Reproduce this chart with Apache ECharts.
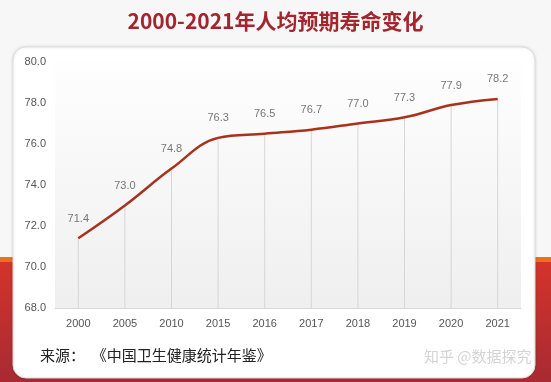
<!DOCTYPE html>
<html>
<head>
<meta charset="utf-8">
<script src="https://cdn.jsdelivr.net/npm/echarts@6/dist/echarts.min.js"></script>
<style>html,body{margin:0;padding:0;background:#f7f7f7;}#c{width:551px;height:382px;}</style>
</head>
<body>
<div id="c"></div>
<script>
const titleText = '2000-2021年人均预期寿命变化';
const years = ['2000','2005','2010','2015','2016','2017','2018','2019','2020','2021'];
const lifeExpectancy = [71.4, 73.0, 74.8, 76.3, 76.5, 76.7, 77.0, 77.3, 77.9, 78.2];
const sourceText = '来源：  《中国卫生健康统计年鉴》';
const watermarkText = '知乎 @数据探究';

const chart = echarts.init(document.getElementById('c'), null, {renderer: 'canvas'});
const G = echarts.graphic;
chart.setOption({
  backgroundColor: '#f7f7f7',
  animation: false,
  title: {
    text: titleText, left: 'center', top: 6,
    textStyle: {color: '#A3262E', fontSize: 21, fontWeight: 'bold', fontFamily: 'Noto Sans CJK SC'}
  },
  graphic: [
    {type: 'rect', z: -10, silent: true, shape: {x: 0, y: 257, width: 551, height: 5}, style: {fill: '#E8721E'}},
    {type: 'rect', z: -10, silent: true, shape: {x: 0, y: 262, width: 551, height: 120},
      style: {fill: new G.LinearGradient(0, 0, 0, 1, [{offset: 0, color: '#D3342A'}, {offset: 1, color: '#A82A33'}])}},
    {type: 'rect', z: -5, silent: true, shape: {x: 13, y: 47, width: 522, height: 331, r: 13},
      style: {fill: '#ffffff', stroke: '#dddddd', lineWidth: 1, shadowBlur: 3, shadowColor: 'rgba(0,0,0,0.12)'}},
    {type: 'text', z: 5, left: 40, top: 348, style: {text: sourceText, fill: '#222', fontSize: 15, fontFamily: 'Noto Sans CJK SC'}},
    {type: 'text', z: 5, left: 424, top: 349, style: {text: watermarkText, fill: 'rgba(170,170,170,0.5)', fontSize: 15, fontFamily: 'Noto Sans CJK SC'}}
  ],
  grid: {
    left: 55, right: 30, top: 62, bottom: 74, show: true, borderWidth: 0,
    backgroundColor: new G.LinearGradient(0, 0, 0, 1, [{offset: 0, color: '#fefefe'}, {offset: 1, color: '#efefef'}])
  },
  xAxis: {
    type: 'category', data: years, boundaryGap: true,
    axisLine: {show: true, lineStyle: {color: '#d8d8d8'}},
    axisTick: {show: false},
    axisLabel: {color: '#555', fontSize: 11, margin: 10, fontFamily: 'Liberation Sans'}
  },
  yAxis: {
    type: 'value', min: 68, max: 80, interval: 2,
    axisLine: {show: false}, axisTick: {show: false}, splitLine: {show: false},
    axisLabel: {color: '#555', fontSize: 11, margin: 9, formatter: v => v.toFixed(1), fontFamily: 'Liberation Sans'}
  },
  series: [
    {
      type: 'bar', data: lifeExpectancy, barWidth: 1, silent: true,
      itemStyle: {color: '#d6d6d6'}, z: 1
    },
    {
      type: 'line', data: lifeExpectancy, smooth: 0.4, showSymbol: false, symbol: 'none', z: 3,
      lineStyle: {color: '#A8321C', width: 2.5}
    },
    {
      type: 'scatter', data: lifeExpectancy, symbol: 'circle', symbolSize: 2, z: 4, silent: true,
      itemStyle: {color: 'rgba(0,0,0,0)'},
      label: {show: true, position: 'top', distance: 13, color: '#555', fontSize: 11, formatter: p => p.value.toFixed(1), fontFamily: 'Liberation Sans'}
    }
  ]
});
</script>
</body>
</html>
